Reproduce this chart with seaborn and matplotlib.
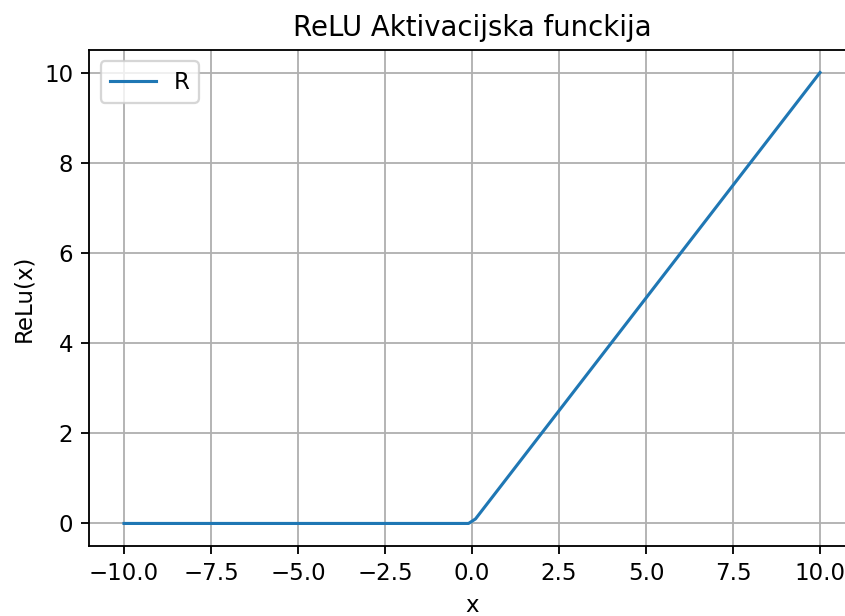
import matplotlib
matplotlib.use("Agg")
import matplotlib.pyplot as plt
import seaborn as sns
import pandas as pd

# --- ReLU curve, corner points ---
x_vals = [-10.0, -0.1, 0.1, 10.0]
relu_vals = [0.0, 0.0, 0.1, 10.0]

data = pd.DataFrame({"x": x_vals, "relu": relu_vals})

DPI = 165
fig = plt.figure(figsize=(845 / DPI, 616 / DPI), dpi=DPI)
# axes run a little past the right edge, as in the cropped reference
ax = fig.add_axes([89.2 / 845, 70 / 616, 765.6 / 845, 496 / 616])

sns.lineplot(data=data, x="x", y="relu", ax=ax, color="#1f77b4",
             linewidth=1.35, label="R", sort=False)

ax.set_title("ReLU Aktivacijska funckija", fontsize=12)
ax.set_xlabel("x")
ax.set_ylabel("ReLu(x)")
ax.grid(True)
ax.spines["right"].set_visible(False)  # cut off in the reference
ax.legend(loc="upper left")

fig.savefig("out.png", dpi=DPI)
